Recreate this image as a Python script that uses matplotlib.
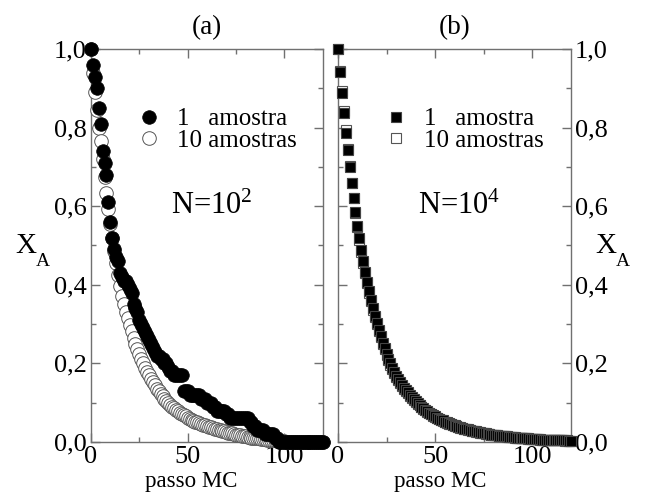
import matplotlib
matplotlib.use("Agg")
import matplotlib.pyplot as plt
from matplotlib.ticker import MultipleLocator, FuncFormatter

plt.rcParams['font.family'] = ['Liberation Serif', 'DejaVu Serif']
plt.rcParams['mathtext.fontset'] = 'custom'
plt.rcParams['mathtext.rm'] = 'Liberation Serif'
plt.rcParams['mathtext.it'] = 'Liberation Serif'

# ---- data ----
steps = list(range(0, 121))

# panel (a): N = 10^2
a_one = [1.00, 0.96, 0.93, 0.90, 0.85, 0.81, 0.74, 0.71, 0.68, 0.61,
         0.56, 0.52, 0.49, 0.47, 0.46, 0.43, 0.42, 0.41, 0.41, 0.40,
         0.39, 0.38, 0.35, 0.34, 0.33, 0.31, 0.30, 0.29, 0.28, 0.27,
         0.26, 0.25, 0.24, 0.23, 0.22, 0.22, 0.21, 0.21, 0.20, 0.20,
         0.19, 0.18, 0.18, 0.17, 0.17, 0.17, 0.17, 0.17, 0.13, 0.13,
         0.13, 0.12, 0.12, 0.12, 0.12, 0.12, 0.12, 0.11, 0.11, 0.11,
         0.10, 0.10, 0.10, 0.09, 0.09, 0.08, 0.08, 0.08, 0.08, 0.08,
         0.07, 0.07, 0.06, 0.06, 0.06, 0.06, 0.06, 0.06, 0.06, 0.06,
         0.06, 0.06, 0.05, 0.05, 0.04, 0.04, 0.03, 0.03, 0.03, 0.03,
         0.02, 0.02, 0.02, 0.02, 0.02, 0.01, 0.01, 0.00, 0.00, 0.00,
         0.00, 0.00, 0.00, 0.00, 0.00, 0.00, 0.00, 0.00, 0.00, 0.00,
         0.00, 0.00, 0.00, 0.00, 0.00, 0.00, 0.00, 0.00, 0.00, 0.00,
         0.00]

a_ten = [1.000, 0.940, 0.890, 0.845, 0.800, 0.765, 0.720, 0.675, 0.633, 0.592,
         0.555, 0.520, 0.487, 0.455, 0.425, 0.398, 0.372, 0.350, 0.330, 0.315,
         0.298, 0.282, 0.265, 0.250, 0.236, 0.223, 0.211, 0.200, 0.189, 0.179,
         0.170, 0.161, 0.152, 0.144, 0.136, 0.129, 0.122, 0.116, 0.110, 0.104,
         0.099, 0.094, 0.090, 0.086, 0.082, 0.078, 0.075, 0.071, 0.068, 0.065,
         0.062, 0.059, 0.057, 0.054, 0.052, 0.050, 0.048, 0.046, 0.044, 0.042,
         0.041, 0.039, 0.037, 0.036, 0.034, 0.033, 0.031, 0.030, 0.028, 0.027,
         0.026, 0.024, 0.023, 0.022, 0.020, 0.019, 0.018, 0.017, 0.016, 0.015,
         0.014, 0.013, 0.012, 0.011, 0.011, 0.010, 0.009, 0.009, 0.008, 0.008,
         0.007, 0.006, 0.006, 0.005, 0.005, 0.004, 0.004, 0.003, 0.003, 0.002,
         0.002, 0.001, 0.001, 0.001, 0.000, 0.000, 0.000, 0.000, 0.000, 0.000,
         0.000, 0.000, 0.000, 0.000, 0.000, 0.000, 0.000, 0.000, 0.000, 0.000,
         0.000]

# panel (b): N = 10^4
b_one = [1.000, 0.942, 0.887, 0.836, 0.787, 0.742, 0.699, 0.658, 0.620, 0.584,
         0.550, 0.518, 0.488, 0.460, 0.433, 0.408, 0.384, 0.362, 0.341, 0.321,
         0.303, 0.285, 0.269, 0.253, 0.239, 0.225, 0.212, 0.200, 0.189, 0.178,
         0.168, 0.160, 0.152, 0.145, 0.138, 0.132, 0.126, 0.120, 0.114, 0.109,
         0.104, 0.099, 0.094, 0.090, 0.086, 0.082, 0.078, 0.074, 0.071, 0.068,
         0.065, 0.062, 0.059, 0.057, 0.055, 0.052, 0.050, 0.048, 0.046, 0.044,
         0.042, 0.040, 0.039, 0.037, 0.036, 0.034, 0.033, 0.032, 0.030, 0.029,
         0.028, 0.027, 0.026, 0.025, 0.024, 0.023, 0.022, 0.021, 0.020, 0.019,
         0.018, 0.018, 0.017, 0.016, 0.016, 0.015, 0.014, 0.014, 0.013, 0.013,
         0.012, 0.012, 0.011, 0.011, 0.010, 0.010, 0.009, 0.009, 0.009, 0.008,
         0.008, 0.008, 0.007, 0.007, 0.007, 0.006, 0.006, 0.006, 0.006, 0.005,
         0.005, 0.005, 0.005, 0.005, 0.004, 0.004, 0.004, 0.004, 0.004, 0.003,
         0.003]

b_ten = [1.000, 0.945, 0.892, 0.842, 0.793, 0.746, 0.702, 0.660, 0.620, 0.583,
         0.548, 0.515, 0.484, 0.456, 0.429, 0.404, 0.380, 0.358, 0.337, 0.317,
         0.299, 0.282, 0.266, 0.250, 0.236, 0.222, 0.209, 0.197, 0.186, 0.176,
         0.166, 0.158, 0.150, 0.143, 0.136, 0.130, 0.124, 0.118, 0.112, 0.107,
         0.102, 0.097, 0.093, 0.089, 0.085, 0.081, 0.077, 0.073, 0.070, 0.067,
         0.064, 0.061, 0.058, 0.056, 0.054, 0.051, 0.049, 0.047, 0.045, 0.043,
         0.041, 0.040, 0.038, 0.036, 0.035, 0.034, 0.032, 0.031, 0.030, 0.029,
         0.027, 0.026, 0.025, 0.024, 0.023, 0.022, 0.021, 0.020, 0.020, 0.019,
         0.018, 0.017, 0.017, 0.016, 0.015, 0.015, 0.014, 0.013, 0.013, 0.012,
         0.012, 0.011, 0.011, 0.010, 0.010, 0.010, 0.009, 0.009, 0.008, 0.008,
         0.008, 0.007, 0.007, 0.007, 0.006, 0.006, 0.006, 0.006, 0.005, 0.005,
         0.005, 0.005, 0.004, 0.004, 0.004, 0.004, 0.004, 0.003, 0.003, 0.003,
         0.003]

panel_titles = ['(a)', '(b)']
size_labels = [r'N=10$^{2}$', r'N=10$^{4}$']
legend_labels = ['1   amostra', '10 amostras']
x_label = 'passo MC'
y_main, y_sub = 'X', 'A'

# ---- figure ----
fig = plt.figure(figsize=(6.48, 4.98), dpi=100)
axA = fig.add_axes([91/648, 1-442/498, 232/648, 393/498])
axB = fig.add_axes([338/648, 1-442/498, 233/648, 393/498])

spine_col = '#707070'
fmt = FuncFormatter(lambda v, p: f"{v:.1f}".replace('.', ','))

def style(ax, right_labels, xl_x):
    ax.set_xlim(0, 120)
    ax.set_ylim(0, 1)
    ax.xaxis.set_major_locator(MultipleLocator(50))
    ax.xaxis.set_minor_locator(MultipleLocator(25))
    ax.yaxis.set_major_locator(MultipleLocator(0.2))
    ax.yaxis.set_minor_locator(MultipleLocator(0.1))
    ax.yaxis.set_major_formatter(fmt)
    for s in ax.spines.values():
        s.set_color(spine_col)
        s.set_linewidth(1.0)
    ax.tick_params(which='both', direction='in', top=True, right=True,
                   left=True, bottom=True, color=spine_col, width=1.0,
                   labelsize=19, pad=3)
    ax.tick_params(which='major', length=6.5)
    ax.tick_params(which='minor', length=3.4)
    if right_labels:
        ax.tick_params(axis='y', labelleft=False, labelright=True)
    ax.set_xlabel(x_label, fontsize=16.5)
    ax.xaxis.set_label_coords(xl_x, -0.075)

style(axA, False, (191 - 91) / 232)
style(axB, True, (440 - 338) / 233)

leg_kw = dict(loc='upper left', bbox_to_anchor=(0.205, 0.85), frameon=False,
              fontsize=18, handlelength=0.8, handletextpad=0.72,
              labelspacing=-0.05, borderpad=0, borderaxespad=0)

# panel (a)
axA.plot(steps, a_ten, linestyle='none', marker='o', markersize=9.8,
         markerfacecolor='white', markeredgecolor='#555555',
         markeredgewidth=0.7, clip_on=False, zorder=3, label=legend_labels[1])
axA.plot(steps, a_one, linestyle='none', marker='o', markersize=9.8,
         markerfacecolor='black', markeredgecolor='black',
         markeredgewidth=0.5, clip_on=False, zorder=4, label=legend_labels[0])
hA, lA = axA.get_legend_handles_labels()
axA.legend(hA[::-1], lA[::-1], **leg_kw)

# panel (b)
axB.plot(steps, b_ten, linestyle='none', marker='s', markersize=7.8,
         markerfacecolor='white', markeredgecolor='#555555',
         markeredgewidth=0.8, clip_on=False, zorder=3, label=legend_labels[1])
axB.plot(steps, b_one, linestyle='none', marker='s', markersize=7.6,
         markerfacecolor='black', markeredgecolor='#444444',
         markeredgewidth=0.8, clip_on=False, zorder=4, label=legend_labels[0])
hB, lB = axB.get_legend_handles_labels()
axB.legend(hB[::-1], lB[::-1], **leg_kw)

for ax, t, nl in zip([axA, axB], panel_titles, size_labels):
    ax.set_title(t, fontsize=19.5, pad=11)
    ax.text(0.52, 0.60, nl, transform=ax.transAxes, fontsize=22,
            ha='center', va='center')

for xc in (26, 606):
    fig.text(xc/648, 1-246/498, y_main, fontsize=21, ha='center', va='center')
    fig.text((xc + 17)/648, 1-261/498, y_sub, fontsize=14, ha='center', va='center')

fig.savefig('out.png', dpi=100)
